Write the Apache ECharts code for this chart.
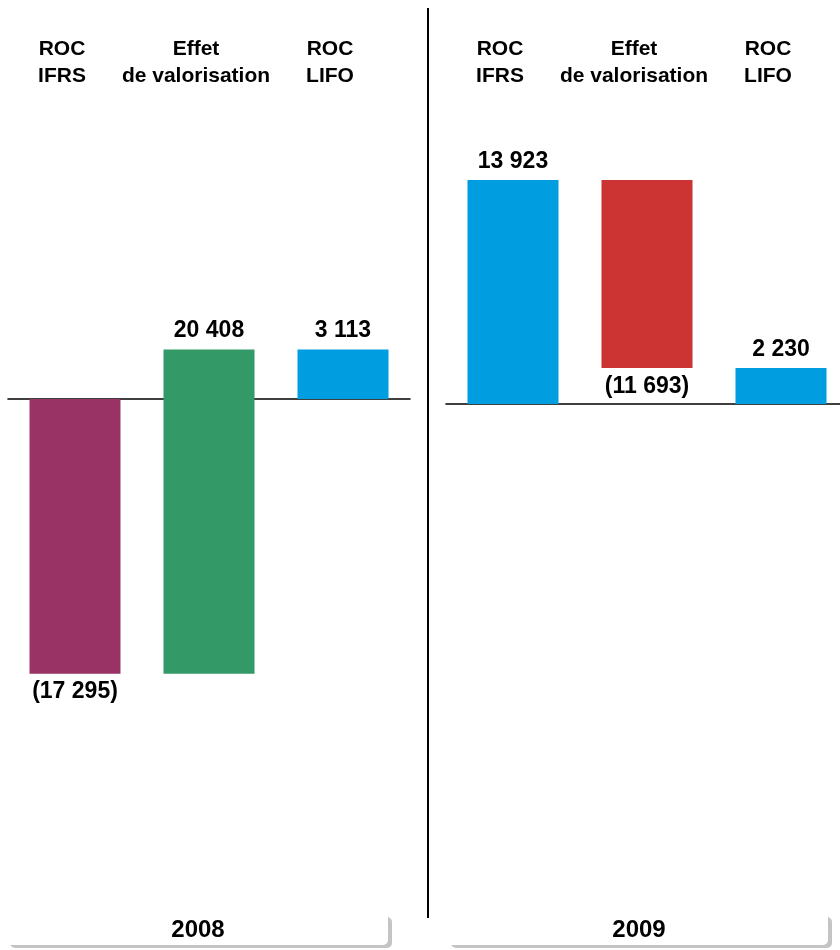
<!DOCTYPE html>
<html>
<head>
<meta charset="utf-8">
<script src="https://cdn.jsdelivr.net/npm/echarts@6/dist/echarts.min.js"></script>
<style>
html,body{margin:0;padding:0;background:#fff;overflow:hidden;width:840px;height:950px;}
#chart{width:848px;height:950px;}
</style>
</head>
<body>
<div id="chart"></div>
<script>
const categories = ['ROC\nIFRS', 'Effet\nde valorisation', 'ROC\nLIFO'];
const years = ['2008', '2009'];
const values2008 = [-17295, 20408, 3113];
const values2009 = [13923, -11693, 2230];
const colors2008 = ['#993366', '#339966', '#009EE0'];
const colors2009 = ['#009EE0', '#CC3333', '#009EE0'];

const FONT = 'Arial, "Liberation Sans", Helvetica, sans-serif';

function fmt(v) {
  const s = Math.abs(v).toString().replace(/\B(?=(\d{3})+(?!\d))/g, ' ');
  return v < 0 ? '(' + s + ')' : s;
}
// waterfall bases: first and last bars start at 0, middle starts at first value
function bases(vals) { return [0, vals[0], 0]; }

const panels = [
  {vals: values2008, cols: colors2008, left: 8, width: 402, min: -31550, max: 18830},
  {vals: values2009, cols: colors2009, left: 446, width: 402, min: -30827, max: 18894}
];

const grid = [], xAxis = [], yAxis = [], series = [], graphic = [];
panels.forEach((p, i) => {
  grid.push({left: p.left, width: p.width, top: 100, height: 800});
  xAxis.push({
    gridIndex: i, type: 'category', position: 'top', data: categories,
    axisLine: {show: false, onZero: false}, axisTick: {show: false},
    axisLabel: {interval: 0, margin: 10, color: '#000', fontFamily: FONT, fontWeight: 'bold',
      fontSize: 21, lineHeight: 27, padding: [0, 26, 0, 0]}
  });
  xAxis.push({
    gridIndex: i, type: 'category', position: 'bottom', data: categories,
    axisLine: {show: true, onZero: true, lineStyle: {color: '#000', width: 1.6}},
    axisTick: {show: false}, axisLabel: {show: false}
  });
  yAxis.push({gridIndex: i, type: 'value', min: p.min, max: p.max, show: false,
    splitLine: {show: false}});
  series.push({
    type: 'bar', xAxisIndex: 2 * i + 1, yAxisIndex: i, stack: 's' + i, stackStrategy: 'all',
    barWidth: 91, silent: true,
    itemStyle: {color: 'rgba(0,0,0,0)'},
    data: bases(p.vals)
  });
  series.push({
    type: 'bar', xAxisIndex: 2 * i + 1, yAxisIndex: i, stack: 's' + i, stackStrategy: 'all',
    barWidth: 91,
    data: p.vals.map((v, k) => ({value: v, itemStyle: {color: p.cols[k]}})),
    label: {show: true, position: 'outside', distance: 7, color: '#000', fontFamily: FONT,
      fontWeight: 'bold', fontSize: 23, formatter: (d) => fmt(d.value)}
  });
});

// year boxes
const boxes = [{x: 6, w: 382, cx: 198}, {x: 447, w: 381, cx: 639}];
boxes.forEach((b, i) => {
  graphic.push({type: 'rect', shape: {x: b.x + 4, y: 917, width: b.w, height: 31, r: 5},
    style: {fill: '#c4c4c4'}, z: 1});
  graphic.push({type: 'rect', shape: {x: b.x, y: 913, width: b.w, height: 32, r: 5},
    style: {fill: '#fff'}, z: 2});
  graphic.push({type: 'text', x: b.cx, y: 930, z: 3,
    style: {text: years[i], fill: '#000', font: 'bold 24px ' + FONT, align: 'center', verticalAlign: 'middle'}});
});
// divider
graphic.push({type: 'line', shape: {x1: 428, y1: 8, x2: 428, y2: 918},
  style: {stroke: '#000', lineWidth: 2}, z: 5});

const chart = echarts.init(document.getElementById('chart'));
chart.setOption({
  animation: false,
  backgroundColor: '#fff',
  grid, xAxis, yAxis, series, graphic
});
</script>
</body>
</html>
